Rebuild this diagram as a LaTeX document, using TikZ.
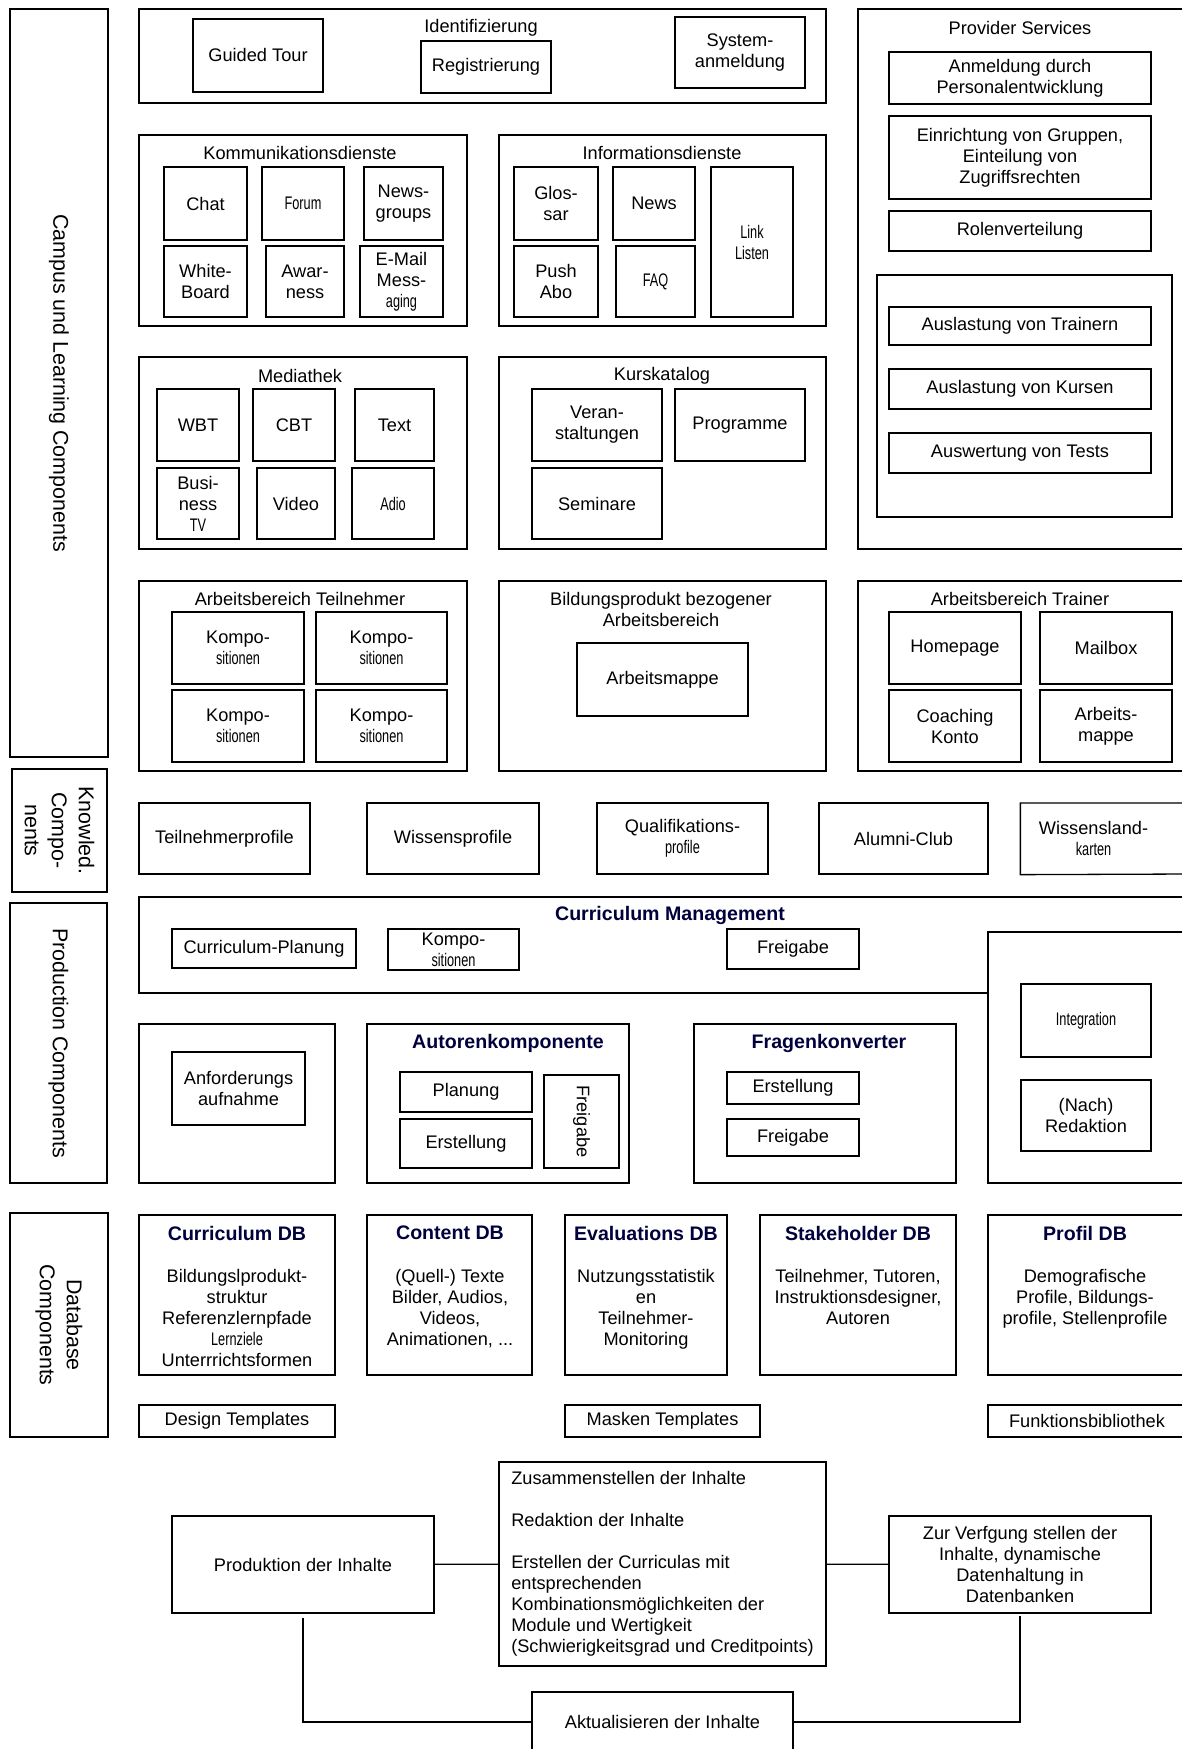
\documentclass[tikz,border=0pt]{standalone}
\usepackage{fontspec}
\setmainfont{Liberation Sans}
\usepackage{graphicx}
\definecolor{titlenavy}{RGB}{0,0,60}
\newcommand{\boxfont}{\fontsize{9.1}{10.5}\selectfont}
\newcommand{\headfont}{\fontsize{9.8}{11.5}\selectfont\bfseries\color{titlenavy}}
\newcommand{\sidefont}{\fontsize{10.7}{13.5}\selectfont}
\newcommand{\narrowtxt}[1]{\scalebox{0.7}[1]{#1}}

\begin{document}
\begin{tikzpicture}[x=0.5pt, y=-0.5pt,
    area/.style n args={4}{at={({(#1+#3)/2},{(#2+#4)/2})},
        minimum width={(#3-#1)*0.5pt}, minimum height={(#4-#2)*0.5pt}},
    blk/.style={draw, line width=0.65pt, inner sep=0pt, align=center, font=\boxfont},
    cover/.style={blk, fill=white},
    ttl/.style={inner sep=0pt, align=center, font=\boxfont},
    head/.style={inner sep=0pt, font=\headfont},
    sidelbl/.style={inner sep=0pt, rotate=-90, align=center, font=\sidefont},
    dbtext/.style={inner sep=0pt, anchor=north, align=center, font=\boxfont},
    wire/.style={line width=0.65pt}]
    \useasboundingbox (0,0) rectangle (1182,1749);
    \clip (0,0) rectangle (1182,1749);

    % Layer labels on the left
    \node[blk, area={10}{9}{108}{757}] (campus) {};
    \node[sidelbl] (campus-t) at (campus) {Campus und Learning Components};
    \node[blk, area={12}{769}{107}{892}] (knowl) {};
    \node[sidelbl] (knowl-t) at (knowl) {Knowled.\\Compo-\\nents};
    \node[blk, area={10}{903}{107}{1183}] (prod) {};
    \node[sidelbl] (prod-t) at (prod) {Production Components};
    \node[blk, area={10}{1213}{108}{1437}] (dbcomp) {};
    \node[sidelbl] (dbcomp-t) at (dbcomp) {Database\\Components};

    % Identifizierung
    \node[blk, area={139}{9}{826}{103}] (ident) {};
    \node[ttl] (ident-t) at (481,28) {Identifizierung};
    \node[blk, area={193}{19}{323}{92}] (guided) {Guided Tour};
    \node[blk, area={421}{41}{551}{93}] (regist) {Registrierung};
    \node[blk, area={675}{17}{805}{88}] (sysanm) {System-\\anmeldung};

    % Provider Services
    \node[blk, area={858}{9}{1186}{549}] (prov) {};
    \node[ttl] (prov-t) at (1020,28) {Provider Services};
    \node[blk, area={889}{52}{1151}{104}] (anmeld) {Anmeldung durch\\Personalentwicklung};
    \node[blk, area={889}{116}{1151}{199}] (einr) {Einrichtung von Gruppen,\\Einteilung von\\Zugriffsrechten};
    \node[blk, area={889}{211}{1151}{251}] (rolen) {Rolenverteilung};
    \node[blk, area={877}{275}{1172}{517}] (auslast) {};
    \node[blk, area={889}{307}{1151}{345}] (ausltr) {Auslastung von Trainern};
    \node[blk, area={889}{369}{1151}{409}] (auslku) {Auslastung von Kursen};
    \node[blk, area={889}{433}{1151}{473}] (auswte) {Auswertung von Tests};

    % Kommunikationsdienste
    \node[blk, area={139}{135}{467}{326}] (komm) {};
    \node[ttl] (komm-t) at (300,153) {Kommunikationsdienste};
    \node[blk, area={164}{167}{247}{240}] (chat) {Chat};
    \node[blk, area={262}{167}{344}{240}] (forum) {\narrowtxt{Forum}};
    \node[blk, area={364}{167}{443}{240}] (newsgr) {News-\\groups};
    \node[blk, area={164}{246}{247}{317}] (white) {White-\\Board};
    \node[blk, area={266}{246}{344}{317}] (awar) {Awar-\\ness};
    \node[blk, area={360}{246}{443}{317}] (email) {E-Mail\\Mess-\\\narrowtxt{aging}};

    % Informationsdienste
    \node[blk, area={499}{135}{826}{326}] (info) {};
    \node[ttl] (info-t) at (662,153) {Informationsdienste};
    \node[blk, area={514}{167}{598}{240}] (glos) {Glos-\\sar};
    \node[blk, area={613}{167}{695}{240}] (news) {News};
    \node[blk, area={514}{246}{598}{317}] (push) {Push\\Abo};
    \node[blk, area={616}{246}{695}{317}] (faq) {\narrowtxt{FAQ}};
    \node[blk, area={711}{167}{793}{317}] (links) {\narrowtxt{Link}\\\narrowtxt{Listen}};

    % Mediathek
    \node[blk, area={139}{357}{467}{549}] (media) {};
    \node[ttl] (media-t) at (300,376) {Mediathek};
    \node[blk, area={157}{389}{239}{461}] (wbt) {WBT};
    \node[blk, area={253}{389}{335}{461}] (cbt) {CBT};
    \node[blk, area={355}{389}{434}{461}] (textm) {Text};
    \node[blk, area={157}{468}{239}{539}] (bustv) {Busi-\\ness\\\narrowtxt{TV}};
    \node[blk, area={257}{468}{335}{539}] (video) {Video};
    \node[blk, area={352}{468}{434}{539}] (adio) {\narrowtxt{Adio}};

    % Kurskatalog
    \node[blk, area={499}{357}{826}{549}] (kurs) {};
    \node[ttl] (kurs-t) at (662,376) {Kurskatalog};
    \node[blk, area={532}{389}{662}{461}] (veran) {Veran-\\staltungen};
    \node[blk, area={675}{389}{805}{461}] (progr) {Programme};
    \node[blk, area={532}{468}{662}{539}] (semin) {Seminare};

    % Arbeitsbereiche
    \node[blk, area={139}{581}{467}{771}] (abteil) {};
    \node[ttl] (abteil-t) at (300,599) {Arbeitsbereich Teilnehmer};
    \node[blk, area={172}{612}{304}{684}] (komp-a) {Kompo-\\\narrowtxt{sitionen}};
    \node[blk, area={316}{612}{447}{684}] (komp-b) {Kompo-\\\narrowtxt{sitionen}};
    \node[blk, area={172}{690}{304}{762}] (komp-c) {Kompo-\\\narrowtxt{sitionen}};
    \node[blk, area={316}{690}{447}{762}] (komp-d) {Kompo-\\\narrowtxt{sitionen}};

    \node[blk, area={499}{581}{826}{771}] (bild) {};
    \node[ttl] (bild-t) at (661,609) {Bildungsprodukt bezogener\\Arbeitsbereich};
    \node[blk, area={577}{643}{748}{716}] (amappe) {Arbeitsmappe};

    \node[blk, area={858}{581}{1186}{771}] (abtrain) {};
    \node[ttl] (abtrain-t) at (1020,599) {Arbeitsbereich Trainer};
    \node[blk, area={889}{612}{1021}{684}] (homep) {Homepage};
    \node[blk, area={1040}{612}{1172}{684}] (mailb) {Mailbox};
    \node[blk, area={889}{690}{1021}{762}] (coach) {Coaching\\Konto};
    \node[blk, area={1040}{690}{1172}{762}] (amappe-tr) {Arbeits-\\mappe};

    % Knowledge row
    \node[blk, area={139}{803}{310}{874}] (tprof) {Teilnehmerprofile};
    \node[blk, area={367}{803}{539}{874}] (wprof) {Wissensprofile};
    \node[blk, area={597}{803}{768}{874}] (qprof) {Qualifikations-\\\narrowtxt{profile}};
    \node[blk, area={819}{803}{988}{874}] (alumni) {Alumni-Club};
    \node[blk, area={1021}{803}{1166}{874}, draw=none] (wland) {Wissensland-\\\narrowtxt{karten}};
    \draw[wire] (1190,803) -| (wland.south west) -- (1190,874);

    % Production
    \node[blk, area={139}{897}{1186}{993}] (currm) {};
    \node[head] (currm-t) at (670,915) {Curriculum Management};
    \node[blk, area={172}{929}{356}{968}] (cplan) {Curriculum-Planung};
    \node[blk, area={388}{929}{519}{970}] (komp-e) {Kompo-\\\narrowtxt{sitionen}};
    \node[blk, area={727}{929}{859}{969}] (frei-cm) {Freigabe};

    \node[cover, area={988}{932}{1186}{1183}] (integbox) {};
    \node[blk, area={1021}{984}{1151}{1057}] (integ) {\narrowtxt{Integration}};
    \node[blk, area={1021}{1080}{1151}{1151}] (nachred) {(Nach)\\Redaktion};

    \node[blk, area={139}{1024}{335}{1183}] (anford) {};
    \node[blk, area={172}{1052}{305}{1125}] (anfaufn) {Anforderungs\\aufnahme};

    \node[blk, area={367}{1024}{629}{1183}] (autor) {};
    \node[head] (autor-t) at (508,1043) {Autorenkomponente};
    \node[blk, area={400}{1072}{532}{1112}] (planung) {Planung};
    \node[blk, area={400}{1119}{532}{1168}] (erst-au) {Erstellung};
    \node[blk, area={544}{1075}{619}{1168}] (frei-au) {};
    \node[ttl, rotate=-90] (frei-au-t) at (frei-au) {Freigabe};

    \node[blk, area={694}{1024}{956}{1183}] (fragen) {};
    \node[head] (fragen-t) at (829,1043) {Fragenkonverter};
    \node[blk, area={727}{1072}{859}{1104}] (erst-fk) {Erstellung};
    \node[blk, area={727}{1119}{859}{1156}] (frei-fk) {Freigabe};

    % Databases
    \node[blk, area={139}{1215}{335}{1375}] (cdb) {};
    \node[head] (cdb-t) at (237,1233) {Curriculum DB};
    \node[dbtext] (cdb-b) at (237,1269) {Bildungslprodukt-\\struktur\\Referenzlernpfade\\\narrowtxt{Lernziele}\\Unterrrichtsformen};
    \node[blk, area={367}{1215}{532}{1375}] (contdb) {};
    \node[head] (contdb-t) at (450,1233) {Content DB};
    \node[dbtext] (contdb-b) at (450,1269) {(Quell-) Texte\\Bilder, Audios,\\Videos,\\Animationen, ...};
    \node[blk, area={565}{1215}{727}{1375}] (evaldb) {};
    \node[head] (evaldb-t) at (646,1233) {Evaluations DB};
    \node[dbtext] (evaldb-b) at (646,1269) {Nutzungsstatistik\\en\\Teilnehmer-\\Monitoring};
    \node[blk, area={760}{1215}{956}{1375}] (stakedb) {};
    \node[head] (stakedb-t) at (858,1233) {Stakeholder DB};
    \node[dbtext] (stakedb-b) at (858,1269) {Teilnehmer, Tutoren,\\Instruktionsdesigner,\\Autoren};
    \node[blk, area={988}{1215}{1186}{1375}] (profdb) {};
    \node[head] (profdb-t) at (1085,1233) {Profil DB};
    \node[dbtext] (profdb-b) at (1085,1269) {Demografische\\Profile, Bildungs-\\profile, Stellenprofile};

    \node[blk, area={139}{1405}{335}{1437}] (design) {Design Templates};
    \node[blk, area={565}{1405}{760}{1437}] (masken) {Masken Templates};
    \node[blk, area={988}{1405}{1186}{1437}] (funkt) {Funktionsbibliothek};

    % Content cycle
    \node[blk, area={172}{1516}{434}{1613}] (prodin) {Produktion der Inhalte};
    \node[blk, area={499}{1462}{826}{1666}, align=left] (zusam) {Zusammenstellen der Inhalte\\[10.5pt]Redaktion der Inhalte\\[10.5pt]Erstellen der Curriculas mit\\entsprechenden\\Kombinationsmöglichkeiten der\\Module und Wertigkeit\\(Schwierigkeitsgrad und Creditpoints)};
    \node[blk, area={889}{1516}{1151}{1613}] (zurverf) {Zur Verfgung stellen der\\Inhalte, dynamische\\Datenhaltung in\\Datenbanken};
    \node[blk, area={532}{1692}{793}{1752}] (aktual) {Aktualisieren der Inhalte};

    \draw[wire] (prodin) -- (zusam);
    \draw[wire] (zusam) -- (zurverf);
    \draw[wire] ([yshift=-2pt]prodin.south) |- (aktual.west);
    \draw[wire] ([yshift=-1pt]zurverf.south) |- (aktual.east);
\end{tikzpicture}
\end{document}
